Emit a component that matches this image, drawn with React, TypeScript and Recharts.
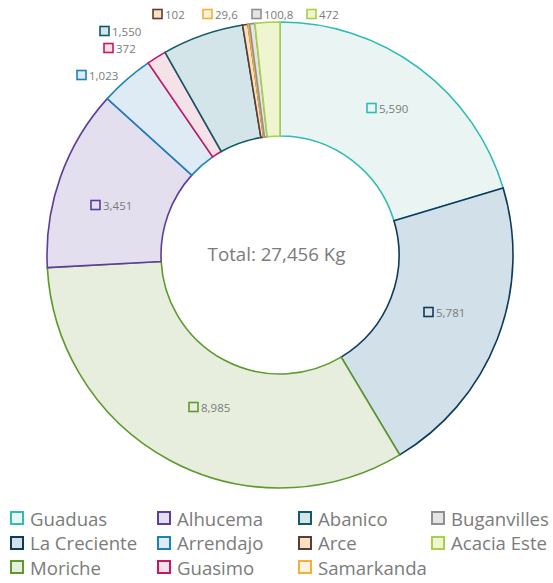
import { PieChart, Pie, Cell, Legend, Label } from 'recharts';

const farms = ['Guaduas', 'La Creciente', 'Moriche', 'Alhucema', 'Arrendajo', 'Guasimo', 'Abanico', 'Arce', 'Samarkanda', 'Buganvilles', 'Acacia Este'];
const kilos = [5590, 5781, 8985, 3451, 1023, 372, 1550, 102, 29.6, 100.8, 472];

const strokes = ['#2fbcb2', '#0e3a5c', '#5d9a2c', '#5e3d9c', '#1b82b8', '#c8175f', '#105b68', '#5b3d35', '#f0b232', '#8f8f8f', '#a9d04a'];
const fills = ['#eaf5f3', '#d2e0e9', '#e7eede', '#e4dfee', '#deeaf4', '#f5e1e8', '#d4e5e9', '#fbe1c2', '#fdf2e2', '#e4e4e4', '#eff5d0'];

// where each value tag sits, relative to the pie centre (marker left edge, middle)
const tagSpots: [number, number][] = [
  [87, -147], [144, 57], [-91, 152], [-189, -50],
  [-203, -180], [-176, -207], [-180, -224],
  [-127, -241], [-77, -241], [-28, -241], [27, -241],
];

const GREY = '#7b7b7b';
const FONT = '"Open Sans", sans-serif';

const fmt = (v: number) =>
  Number.isInteger(v) ? v.toLocaleString('en-US') : String(v).replace('.', ',');

const data = farms.map((name, i) => ({ name, value: kilos[i] }));
const total = Math.round(kilos.reduce((a, b) => a + b, 0));

function ValueTag(props: any) {
  const { cx, cy, index, value } = props;
  const [dx, dy] = tagSpots[index];
  const x = cx + dx;
  const y = cy + dy;
  return (
    <g>
      <rect x={x} y={y - 4.5} width={9} height={9} fill={fills[index]} stroke={strokes[index]} strokeWidth={1.6} />
      <text x={x + 12} y={y} dominantBaseline="central" fontSize={11.5} fill={GREY} fontFamily={FONT}>
        {fmt(value)}
      </text>
    </g>
  );
}

function FarmLegend() {
  return (
    <div
      style={{
        display: 'grid',
        gridTemplateRows: 'repeat(3, 24.5px)',
        gridTemplateColumns: '147px 141px 133px 132px',
        gridAutoFlow: 'column',
        paddingLeft: 10,
        fontFamily: FONT,
        fontSize: 18.6,
        color: GREY,
      }}
    >
      {farms.map((f, i) => (
        <div key={f} style={{ display: 'flex', alignItems: 'center', whiteSpace: 'nowrap' }}>
          <span
            style={{
              display: 'inline-block',
              width: 10,
              height: 10,
              border: `2px solid ${strokes[i]}`,
              background: fills[i],
              marginRight: 6,
            }}
          />
          {f}
        </div>
      ))}
    </div>
  );
}

export default function App() {
  return (
    <div style={{ position: 'absolute', left: 0, top: 0 }}>
      <PieChart width={553} height={583} margin={{ top: 0, right: 0, bottom: 0, left: 0 }}>
        <Pie
          data={data}
          dataKey="value"
          nameKey="name"
          cx={280}
          cy={255}
          innerRadius={119}
          outerRadius={233}
          startAngle={90}
          endAngle={-270}
          paddingAngle={0}
          label={ValueTag}
          labelLine={false}
          isAnimationActive={false}
        >
          {data.map((d, i) => (
            <Cell key={d.name} fill={fills[i]} stroke={strokes[i]} strokeWidth={1.6} />
          ))}
          <Label
            position="center"
            value={`Total: ${total.toLocaleString('en-US')} Kg`}
            fill={GREY}
            fontSize={18.7}
            fontFamily={FONT}
          />
        </Pie>
        <Legend
          content={<FarmLegend />}
          wrapperStyle={{ left: 0, top: 506, width: 553 }}
        />
      </PieChart>
    </div>
  );
}
